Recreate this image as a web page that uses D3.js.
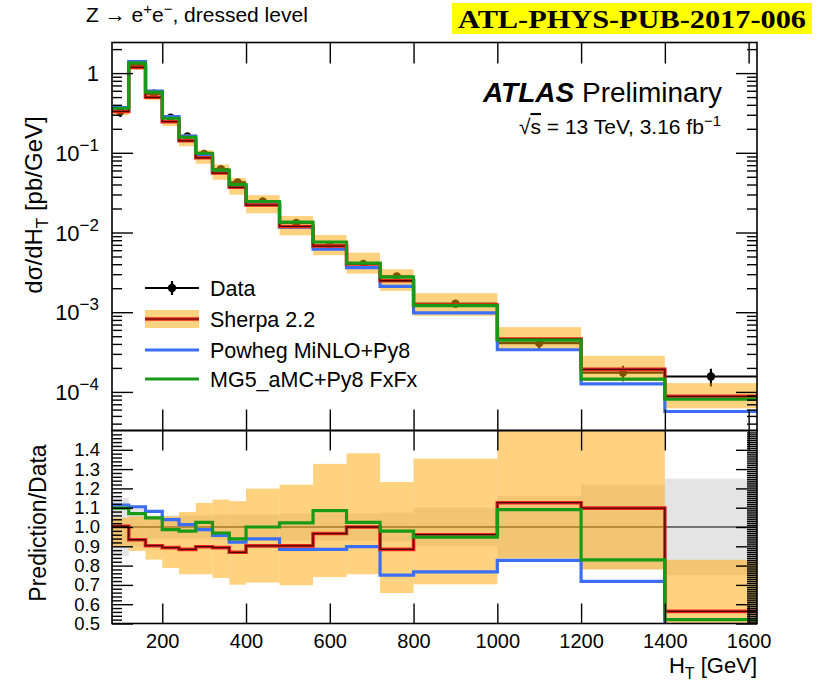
<!DOCTYPE html>
<html><head><meta charset="utf-8">
<script src="https://cdn.jsdelivr.net/npm/d3@7"></script>
<style>
html,body{margin:0;padding:0;background:#fff;}
svg{display:block;font-family:"Liberation Sans",Arial,Helvetica,sans-serif;}
</style></head>
<body>
<svg id="c" width="821" height="684"></svg>
<script>
// ---------------- data ----------------
const binEdges = [80,120,160,200,240,280,320,360,400,480,560,640,720,800,1000,1200,1400,1620];
const dataVals = [0.33,1.26,0.55,0.275,0.160,0.0964,0.0624,0.0425,0.0245,0.0132,0.0070,0.00404,0.00281,0.00128,0.000409,0.000175,0.000156];
const dataRelErr = [0.15,0.10,0.06,0.06,0.06,0.06,0.065,0.065,0.065,0.07,0.07,0.07,0.075,0.10,0.16,0.22,0.25];
const sherpaVals = [0.331,1.177,0.497,0.2456,0.1414,0.0866,0.0557,0.0369,0.0221,0.01191,0.00676,0.00404,0.00248,0.00123,0.000461,0.000192,0.0000878];
const sherpaBandHi = [0.346,1.329,0.580,0.290,0.1725,0.1085,0.0713,0.0482,0.0294,0.01609,0.00929,0.00558,0.00346,0.00173,0.000650,0.000284,0.000129];
const sherpaBandLo = [0.297,1.104,0.457,0.2167,0.1208,0.0728,0.0459,0.0298,0.01744,0.00921,0.00519,0.00305,0.00185,0.000900,0.000342,0.000137,0.0000624];
const powhegVals = [0.368,1.392,0.595,0.2855,0.1619,0.0951,0.0597,0.0392,0.0230,0.01167,0.00619,0.00363,0.00211,0.000982,0.000338,0.000126,0.0000568];
const mg5Vals = [0.362,1.347,0.576,0.2712,0.1566,0.0987,0.0605,0.0399,0.0245,0.01348,0.00760,0.00414,0.00275,0.00121,0.000446,0.000145,0.0000811];
// ratio panel (Prediction/Data)
const ratioSherpa = [1.004,0.934,0.903,0.893,0.884,0.898,0.893,0.869,0.902,0.902,0.966,1.0,0.884,0.96,1.126,1.098,0.563];
const ratioPowheg = [1.114,1.105,1.081,1.038,1.012,0.986,0.957,0.922,0.938,0.884,0.884,0.898,0.751,0.767,0.827,0.718,0.364];
const ratioMG5 = [1.098,1.069,1.047,0.986,0.979,1.024,0.969,0.938,1.0,1.021,1.085,1.024,0.979,0.948,1.09,0.83,0.52];
const ratioBandHi = [1.048,1.055,1.055,1.055,1.078,1.125,1.142,1.134,1.199,1.219,1.327,1.382,1.233,1.354,1.59,1.62,0.83];
const ratioBandLo = [0.90,0.876,0.831,0.788,0.755,0.755,0.736,0.701,0.712,0.698,0.741,0.755,0.658,0.703,0.836,0.78,0.40];
const xTicks = [200,400,600,800,1000,1200,1400,1600];
const mainMajor = [1e-4,1e-3,1e-2,1e-1,1];
const mainLabelExp = [-4,-3,-2,-1,0];
const ratioTicks = [0.5,0.6,0.7,0.8,0.9,1.0,1.1,1.2,1.3,1.4];
const legendLabels = ["Data","Sherpa 2.2","Powheg MiNLO+Py8","MG5_aMC+Py8 FxFx"];

// ---------------- layout ----------------
const L = 112, R = 757, mainTop = 42.5, mainBot = 430.5, ratBot = 623.5;
const col = {red:"#e8261a", blue:"#3b6ef5", green:"#189a18", band:"rgba(255,165,0,0.5)", gray:"#e4e4e4"};

const svg = d3.select("#c");
const x = d3.scaleLinear().domain([80,1620]).range([L,R]);
const y = d3.scaleLog().domain([3.28e-5,2.42]).range([mainBot,mainTop]);
const yr = d3.scaleLinear().domain([0.5,1.5]).range([ratBot,mainBot]);

const defs = svg.append("defs");
defs.append("clipPath").attr("id","cm").append("rect").attr("x",L).attr("y",mainTop).attr("width",R-L).attr("height",mainBot-mainTop);
defs.append("clipPath").attr("id","cr").append("rect").attr("x",L).attr("y",mainBot).attr("width",R-L).attr("height",ratBot-mainBot);

function stepPts(vals){const p=[];vals.forEach((v,i)=>{p.push([binEdges[i],v]);p.push([binEdges[i+1],v]);});return p;}
const bins = dataVals.map((d,i)=>({i, x0:binEdges[i], x1:binEdges[i+1]}));

// ---------------- main panel ----------------
const gm = svg.append("g").attr("clip-path","url(#cm)");
gm.selectAll(".dh").data(bins).join("line")
  .attr("x1",d=>x(d.x0)).attr("x2",d=>x(d.x1))
  .attr("y1",d=>y(dataVals[d.i])).attr("y2",d=>y(dataVals[d.i]))
  .attr("stroke","#000").attr("stroke-width",2.2);
gm.selectAll(".de").data(bins).join("line")
  .attr("x1",d=>x((d.x0+d.x1)/2)).attr("x2",d=>x((d.x0+d.x1)/2))
  .attr("y1",d=>y(dataVals[d.i]*(1+dataRelErr[d.i]))).attr("y2",d=>y(dataVals[d.i]*(1-dataRelErr[d.i])))
  .attr("stroke","#000").attr("stroke-width",2.2);
gm.selectAll(".dm").data(bins).join("circle")
  .attr("cx",d=>x((d.x0+d.x1)/2)).attr("cy",d=>y(dataVals[d.i])).attr("r",4.2).attr("fill","#000");
gm.selectAll(".sb").data(bins).join("rect")
  .attr("x",d=>x(d.x0)).attr("width",d=>x(d.x1)-x(d.x0))
  .attr("y",d=>y(sherpaBandHi[d.i])).attr("height",d=>y(sherpaBandLo[d.i])-y(sherpaBandHi[d.i]))
  .attr("fill",col.band);
const lm = d3.line().x(d=>x(d[0])).y(d=>y(d[1]));
gm.append("path").attr("d",lm(stepPts(powhegVals))).attr("fill","none").attr("stroke",col.blue).attr("stroke-width",3.2);
gm.append("path").attr("d",lm(stepPts(sherpaVals))).attr("fill","none").attr("stroke",col.red).attr("stroke-width",3.6);
gm.append("path").attr("d",lm(stepPts(sherpaVals))).attr("fill","none").attr("stroke","#4a0800").attr("stroke-width",1.3);
gm.append("path").attr("d",lm(stepPts(mg5Vals))).attr("fill","none").attr("stroke",col.green).attr("stroke-width",3.2);

// ---------------- ratio panel ----------------
const gr = svg.append("g").attr("clip-path","url(#cr)");
gr.selectAll(".gb").data(bins).join("rect")
  .attr("x",d=>x(d.x0)).attr("width",d=>x(d.x1)-x(d.x0))
  .attr("y",d=>yr(1+dataRelErr[d.i])).attr("height",d=>yr(1-dataRelErr[d.i])-yr(1+dataRelErr[d.i]))
  .attr("fill",col.gray);
gr.append("line").attr("x1",L).attr("x2",R).attr("y1",yr(1)).attr("y2",yr(1)).attr("stroke","#000").attr("stroke-width",1.2);
gr.selectAll(".rb").data(bins).join("rect")
  .attr("x",d=>x(d.x0)).attr("width",d=>x(d.x1)-x(d.x0))
  .attr("y",d=>yr(ratioBandHi[d.i])).attr("height",d=>yr(ratioBandLo[d.i])-yr(ratioBandHi[d.i]))
  .attr("fill",col.band);
const lr = d3.line().x(d=>x(d[0])).y(d=>yr(d[1]));
gr.append("path").attr("d",lr(stepPts(ratioPowheg))).attr("fill","none").attr("stroke",col.blue).attr("stroke-width",3.2);
gr.append("path").attr("d",lr(stepPts(ratioSherpa))).attr("fill","none").attr("stroke",col.red).attr("stroke-width",3.6);
gr.append("path").attr("d",lr(stepPts(ratioSherpa))).attr("fill","none").attr("stroke","#4a0800").attr("stroke-width",1.3);
gr.append("path").attr("d",lr(stepPts(ratioMG5))).attr("fill","none").attr("stroke",col.green).attr("stroke-width",3.2);

// ---------------- axes ----------------
function styleAxis(g){g.select(".domain").remove();g.selectAll("line").attr("stroke","#000").attr("stroke-width",1.4);g.selectAll("text").attr("font-family","Liberation Sans, Arial, sans-serif").attr("fill","#000");}
const mainMinor=[];for(let e=-5;e<=0;e++){for(let k=2;k<=9;k++){const v=k*Math.pow(10,e);if(v>=3.28e-5&&v<=2.42)mainMinor.push(v);}}
svg.append("g").attr("transform",`translate(${L},0)`).call(d3.axisLeft(y).tickValues(mainMajor).tickSizeInner(-21).tickSizeOuter(0).tickFormat(()=>"" )).call(styleAxis);
svg.append("g").attr("transform",`translate(${L},0)`).call(d3.axisLeft(y).tickValues(mainMinor).tickSizeInner(-10).tickSizeOuter(0).tickFormat(()=>"")).call(styleAxis);
svg.append("g").attr("transform",`translate(${R},0)`).call(d3.axisRight(y).tickValues(mainMajor).tickSizeInner(-21).tickSizeOuter(0).tickFormat(()=>"")).call(styleAxis);
svg.append("g").attr("transform",`translate(${R},0)`).call(d3.axisRight(y).tickValues(mainMinor).tickSizeInner(-10).tickSizeOuter(0).tickFormat(()=>"")).call(styleAxis);
mainMajor.forEach((v,i)=>{
  const e = mainLabelExp[i];
  const t = svg.append("text").attr("x",99).attr("y",y(v)+8).attr("text-anchor","end").attr("font-size",22);
  if(e===0){t.text("1");}
  else{t.append("tspan").text("10");t.append("tspan").attr("dy",-10).attr("font-size",17).text("\u2212"+(-e));}
});
svg.append("g").attr("transform",`translate(0,${mainTop})`).call(d3.axisTop(x).tickValues(xTicks).tickSizeInner(-21).tickSizeOuter(0).tickFormat(()=>"")).call(styleAxis);
svg.append("g").attr("transform",`translate(0,${mainBot})`).call(d3.axisBottom(x).tickValues(xTicks).tickSizeInner(-21).tickSizeOuter(0).tickFormat(()=>"")).call(styleAxis);
const ratioMinorL=[],ratioMinorR=[];
for(let k=50;k<=150;k++){const v=k/100;if(k%10!==0){ratioMinorR.push(v);if(k%2===0)ratioMinorL.push(v);}}
svg.append("g").attr("transform",`translate(0,${mainBot})`).call(d3.axisTop(x).tickValues(xTicks).tickSizeInner(-20).tickSizeOuter(0).tickFormat(()=>"")).call(styleAxis);
svg.append("g").attr("transform",`translate(0,${ratBot})`).call(d3.axisBottom(x).tickValues(xTicks).tickSizeInner(-20).tickSizeOuter(0).tickPadding(10).tickFormat(d3.format("d"))).call(styleAxis)
  .selectAll("text").attr("font-size",20);
svg.append("g").attr("transform",`translate(${L},0)`).call(d3.axisLeft(yr).tickValues(ratioTicks).tickSizeInner(-21).tickSizeOuter(0).tickPadding(12).tickFormat(d3.format(".1f"))).call(styleAxis)
  .selectAll("text").attr("font-size",18.5);
svg.append("g").attr("transform",`translate(${L},0)`).call(d3.axisLeft(yr).tickValues(ratioMinorL).tickSizeInner(-10).tickSizeOuter(0).tickFormat(()=>"")).call(styleAxis);
svg.append("g").attr("transform",`translate(${R},0)`).call(d3.axisRight(yr).tickValues(ratioTicks).tickSizeInner(-21).tickSizeOuter(0).tickFormat(()=>"")).call(styleAxis);
svg.append("g").attr("transform",`translate(${R},0)`).call(d3.axisRight(yr).tickValues(ratioMinorR).tickSizeInner(-10).tickSizeOuter(0).tickFormat(()=>"")).call(styleAxis);

svg.append("rect").attr("x",L).attr("y",mainTop).attr("width",R-L).attr("height",mainBot-mainTop).attr("fill","none").attr("stroke","#000").attr("stroke-width",1.6);
svg.append("rect").attr("x",L).attr("y",mainBot).attr("width",R-L).attr("height",ratBot-mainBot).attr("fill","none").attr("stroke","#000").attr("stroke-width",1.6);

// axis titles
const yt = svg.append("text").attr("transform","translate(42,205) rotate(-90)").attr("text-anchor","middle").attr("font-size",24);
yt.append("tspan").text("d\u03c3/dH");
yt.append("tspan").attr("dy",6).attr("font-size",17).text("T");
yt.append("tspan").attr("dy",-6).text(" [pb/GeV]");
svg.append("text").attr("transform","translate(46,523) rotate(-90)").attr("text-anchor","middle").attr("font-size",23).text("Prediction/Data");
const xt = svg.append("text").attr("x",R).attr("y",673).attr("text-anchor","end").attr("font-size",22);
xt.append("tspan").text("H");
xt.append("tspan").attr("dy",6).attr("font-size",16).text("T");
xt.append("tspan").attr("dy",-6).text(" [GeV]");

// top texts
const zt = svg.append("text").attr("x",86).attr("y",22).attr("font-size",21);
zt.append("tspan").text("Z \u2192 e");
zt.append("tspan").attr("dy",-8).attr("font-size",15).text("+");
zt.append("tspan").attr("dy",8).text("e");
zt.append("tspan").attr("dy",-8).attr("font-size",15).text("\u2212");
zt.append("tspan").attr("dy",8).text(", dressed level");
svg.append("rect").attr("x",452).attr("y",3).attr("width",360).attr("height",31).attr("fill","#ffff00");
svg.append("text").attr("x",458).attr("y",28).attr("font-family","Liberation Serif, Times New Roman, serif").attr("font-weight","bold").attr("font-size",25)
  .attr("textLength",348).attr("lengthAdjust","spacingAndGlyphs").text("ATL-PHYS-PUB-2017-006");

// ATLAS label
const at = svg.append("text").attr("x",722).attr("y",102).attr("text-anchor","end").attr("font-size",28);
at.append("tspan").attr("font-weight","bold").attr("font-style","italic").text("ATLAS");
at.append("tspan").text(" Preliminary");
const st = svg.append("text").attr("x",721).attr("y",134).attr("text-anchor","end").attr("font-size",21);
st.append("tspan").text("\u221A");
st.append("tspan").attr("text-decoration","overline").text("s");
st.append("tspan").text(" = 13 TeV, 3.16 fb");
st.append("tspan").attr("dy",-8).attr("font-size",15).text("\u22121");
// legend
const lg = svg.append("g");
const lx0 = 145, lx1 = 199, ltx = 210;
const ly = [288,319,350,379];
lg.append("line").attr("x1",lx0).attr("x2",lx1).attr("y1",ly[0]).attr("y2",ly[0]).attr("stroke","#000").attr("stroke-width",2.2);
lg.append("line").attr("x1",(lx0+lx1)/2).attr("x2",(lx0+lx1)/2).attr("y1",ly[0]-7).attr("y2",ly[0]+7).attr("stroke","#000").attr("stroke-width",2.2);
lg.append("circle").attr("cx",(lx0+lx1)/2).attr("cy",ly[0]).attr("r",4.2).attr("fill","#000");
lg.append("rect").attr("x",lx0).attr("y",ly[1]-9).attr("width",lx1-lx0).attr("height",18).attr("fill",col.band);
lg.append("line").attr("x1",lx0).attr("x2",lx1).attr("y1",ly[1]).attr("y2",ly[1]).attr("stroke",col.red).attr("stroke-width",3.6);
lg.append("line").attr("x1",lx0).attr("x2",lx1).attr("y1",ly[1]).attr("y2",ly[1]).attr("stroke","#4a0800").attr("stroke-width",1.2);
lg.append("line").attr("x1",lx0).attr("x2",lx1).attr("y1",ly[2]).attr("y2",ly[2]).attr("stroke",col.blue).attr("stroke-width",3.2);
lg.append("line").attr("x1",lx0).attr("x2",lx1).attr("y1",ly[3]).attr("y2",ly[3]).attr("stroke",col.green).attr("stroke-width",3.2);
legendLabels.forEach((s,i)=>{
  lg.append("text").attr("x",ltx).attr("y",ly[i]+8).attr("font-size",21.5).text(s);
});
</script>
</body></html>
